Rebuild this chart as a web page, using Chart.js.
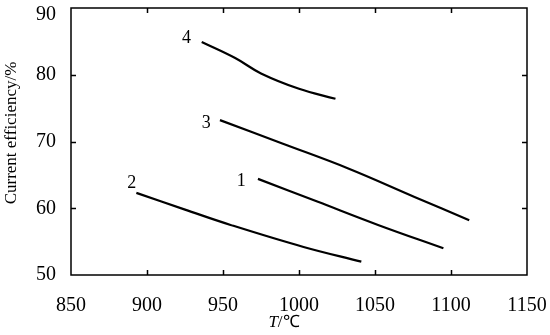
<!DOCTYPE html>
<html>
<head>
<meta charset="utf-8">
<script src="https://cdn.jsdelivr.net/npm/chart.js@4/dist/chart.umd.min.js"></script>
<style>
body { margin: 0; background: #fff; }
#wrap { width: 550px; height: 335px; }
</style>
</head>
<body>
<div id="wrap"><canvas id="chart"></canvas></div>
<script>
// temperature (°C) vs current efficiency (%)
const curve1X = [973, 1012, 1052, 1095];
const curve1Y = [64.4, 61.0, 57.5, 54.0];
const curve2X = [893, 925, 955, 1003, 1041];
const curve2Y = [62.3, 59.8, 57.5, 54.2, 52.0];
const curve3X = [948, 989, 1032, 1076, 1112];
const curve3Y = [73.2, 69.7, 66.0, 61.7, 58.2];
const curve4X = [936, 958, 975, 1000, 1024];
const curve4Y = [84.9, 82.5, 80.2, 77.9, 76.4];

const curveNames = ['1', '2', '3', '4'];
const nameX = [962, 890, 939, 926];
const nameY = [64.0, 63.7, 72.7, 85.4];

const xTicks = [850, 900, 950, 1000, 1050, 1100, 1150];
const yTicks = [50, 60, 70, 80, 90];

const serif = "'Liberation Serif', 'Times New Roman', serif";

function pts(xs, ys) {
    return xs.map((x, i) => ({ x: x, y: ys[i] }));
}

function line(xs, ys) {
    return {
        data: pts(xs, ys),
        borderColor: '#000',
        borderWidth: 2.2,
        pointRadius: 0,
        fill: false,
        tension: 0.4
    };
}

// frame, inward ticks on all four sides, y labels, curve numbers and axis titles
const frame = {
    id: 'frame',
    afterDraw(c) {
        const ctx = c.ctx;
        const a = c.chartArea;
        const xs = c.scales.x;
        const ys = c.scales.y;
        ctx.save();
        ctx.strokeStyle = '#000';
        ctx.lineWidth = 1.5;
        ctx.strokeRect(a.left, a.top, a.right - a.left, a.bottom - a.top);
        ctx.beginPath();
        xTicks.slice(1, -1).forEach(v => {
            const px = Math.round(xs.getPixelForValue(v)) + 0.5;
            ctx.moveTo(px, a.bottom); ctx.lineTo(px, a.bottom - 5);
            ctx.moveTo(px, a.top); ctx.lineTo(px, a.top + 5);
        });
        yTicks.slice(1, -1).forEach(v => {
            const py = Math.round(ys.getPixelForValue(v)) + 0.5;
            ctx.moveTo(a.left, py); ctx.lineTo(a.left + 5, py);
            ctx.moveTo(a.right, py); ctx.lineTo(a.right - 5, py);
        });
        ctx.stroke();

        ctx.fillStyle = '#000';
        ctx.textBaseline = 'middle';

        // y tick labels (top one kept inside the canvas)
        ctx.font = '20px ' + serif;
        ctx.textAlign = 'right';
        yTicks.forEach(v => {
            ctx.fillText(String(v), a.left - 15, Math.max(ys.getPixelForValue(v), 15));
        });

        ctx.font = '18px ' + serif;
        ctx.textAlign = 'center';
        curveNames.forEach((n, i) => {
            ctx.fillText(n, xs.getPixelForValue(nameX[i]), ys.getPixelForValue(nameY[i]));
        });

        // y axis title
        ctx.save();
        ctx.translate(12, 133);
        ctx.rotate(-Math.PI / 2);
        ctx.font = '17px ' + serif;
        ctx.fillText('Current efficiency/%', 0, 0);
        ctx.restore();

        // x axis title: italic T, then /℃
        const cx = 284;
        const ty = 323;
        ctx.textAlign = 'left';
        ctx.font = 'italic 17px ' + serif;
        const wT = ctx.measureText('T').width;
        ctx.font = '17px ' + serif;
        const wR = ctx.measureText('/℃').width;
        const x0 = cx - (wT + wR) / 2;
        ctx.font = 'italic 17px ' + serif;
        ctx.fillText('T', x0, ty);
        ctx.font = '17px ' + serif;
        ctx.fillText('/℃', x0 + wT, ty);
        ctx.restore();
    }
};

const ctx = document.getElementById('chart');

new Chart(ctx, {
    type: 'line',
    data: {
        datasets: [
            line(curve1X, curve1Y),
            line(curve2X, curve2Y),
            line(curve3X, curve3Y),
            line(curve4X, curve4Y)
        ]
    },
    options: {
        responsive: true,
        maintainAspectRatio: false,
        animation: false,
        layout: { padding: { left: 0, right: 23, top: 8, bottom: 0 } },
        plugins: {
            legend: { display: false },
            tooltip: { enabled: false }
        },
        scales: {
            x: {
                type: 'linear',
                min: 850,
                max: 1150,
                afterBuildTicks: s => { s.ticks = xTicks.map(v => ({ value: v })); },
                afterFit: s => { s.height = 60; s.paddingLeft = 0; s.paddingRight = 0; },
                grid: { display: false },
                border: { display: false },
                ticks: {
                    color: '#000',
                    font: { family: serif, size: 20 },
                    padding: 11,
                    maxRotation: 0,
                    callback: v => String(v)
                }
            },
            y: {
                min: 50,
                max: 90,
                afterBuildTicks: s => { s.ticks = yTicks.map(v => ({ value: v })); },
                afterFit: s => { s.width = 71; s.paddingTop = 0; s.paddingBottom = 0; },
                grid: { display: false },
                border: { display: false },
                ticks: { display: false }
            }
        }
    },
    plugins: [frame]
});
</script>
</body>
</html>
